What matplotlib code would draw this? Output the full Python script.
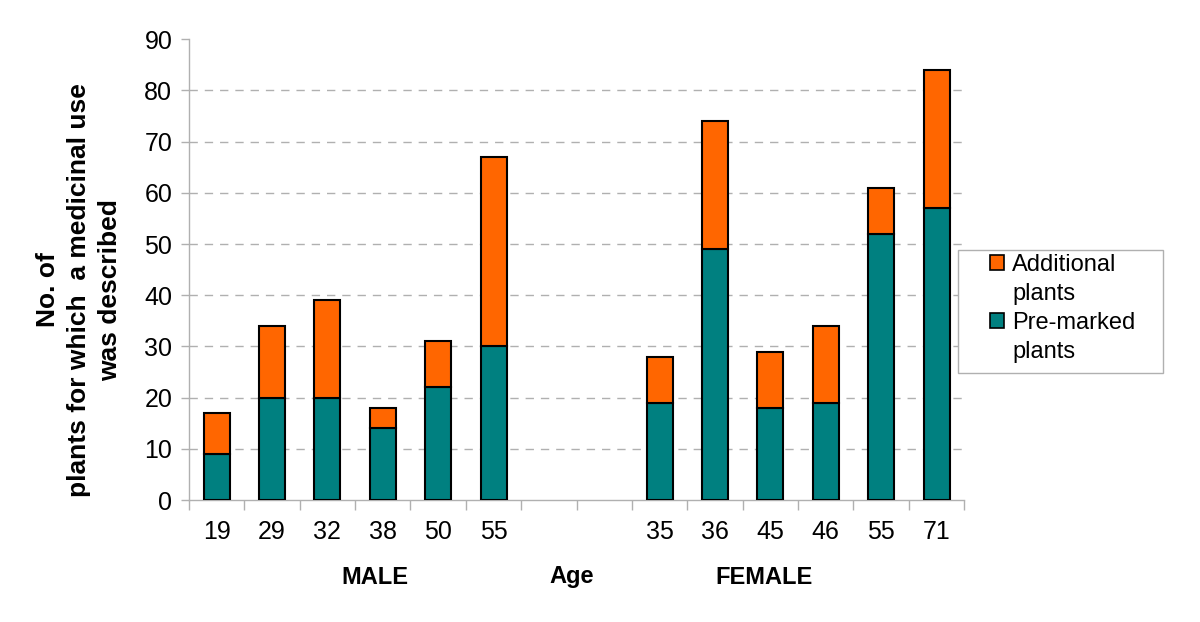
import numpy as np
import matplotlib.pyplot as plt
from matplotlib.patches import Rectangle, Patch

plt.rcParams['font.family'] = ['Liberation Sans', 'DejaVu Sans']

# data
ages = ['19', '29', '32', '38', '50', '55', '', '', '35', '36', '45', '46', '55', '71']
pre_marked = [9, 20, 20, 14, 22, 30, 0, 0, 19, 49, 18, 19, 52, 57]
totals = [17, 34, 39, 18, 31, 67, 0, 0, 28, 74, 29, 34, 61, 84]
additional = [t - p for t, p in zip(totals, pre_marked)]

TEAL = '#008080'
ORANGE = '#FF6600'
GRID = '#b0b0b0'
W, H = 1200, 622

fig = plt.figure(figsize=(12, 6.22), dpi=100)
ax = fig.add_axes([0.1575, 0.196, 0.646, 0.741])

x = np.arange(len(ages))
has_bar = np.array(totals) > 0
w = 0.47
ax.bar(x[has_bar], np.array(pre_marked)[has_bar], width=w, color=TEAL,
       edgecolor='black', linewidth=1.5, zorder=3)
ax.bar(x[has_bar], np.array(additional)[has_bar], width=w,
       bottom=np.array(pre_marked)[has_bar], color=ORANGE,
       edgecolor='black', linewidth=1.5, zorder=3)

ax.set_xlim(-0.5, len(ages) - 0.5)
ax.set_ylim(0, 90)
for yv in range(10, 90, 10):
    ax.axhline(yv, color=GRID, linestyle=(0, (6, 5)), linewidth=1, zorder=1)

ax.set_yticks(range(0, 91, 10))
ax.tick_params(axis='y', labelsize=18, length=6, color=GRID, width=1, pad=6)

# category boundaries carry the tick marks, labels sit at centres
ax.set_xticks(np.arange(-0.5, len(ages), 1.0))
ax.set_xticklabels([])
ax.tick_params(axis='x', length=7, color=GRID, width=1)
ax.set_xticks(x, minor=True)
ax.set_xticklabels(ages, minor=True, fontsize=18)
ax.tick_params(axis='x', which='minor', length=0, pad=14)

for s in ['top', 'right']:
    ax.spines[s].set_visible(False)
for s in ['left', 'bottom']:
    ax.spines[s].set_color(GRID)
    ax.spines[s].set_linewidth(1)

fig.text(79 / W, 1 - 290 / H,
         'No. of\nplants for which  a medicinal use\nwas described',
         fontsize=19, fontweight='bold', rotation=90, ha='center',
         va='center', multialignment='center', linespacing=1.35)

fig.text(375 / W, 1 - 577 / H, 'MALE', fontsize=17, fontweight='bold',
         ha='center', va='center')
fig.text(572 / W, 1 - 577 / H, 'Age', fontsize=17, fontweight='bold',
         ha='center', va='center')
fig.text(764 / W, 1 - 577 / H, 'FEMALE', fontsize=17, fontweight='bold',
         ha='center', va='center')

# legend box drawn by hand so the padding matches;
# the swatch sits next to the first line of each wrapped label
fig.patches.append(Rectangle((958 / W, 1 - 373 / H), 205 / W, 123 / H,
                             transform=fig.transFigure, facecolor='white',
                             edgecolor=GRID, linewidth=1))
blank = Patch(facecolor='none', edgecolor='none')
handles = [Patch(facecolor=ORANGE, edgecolor='black', linewidth=1.2), blank,
           Patch(facecolor=TEAL, edgecolor='black', linewidth=1.2), blank]
labels = ['Additional', 'plants', 'Pre-marked', 'plants']
leg = fig.legend(handles, labels, loc='upper left',
                 bbox_to_anchor=(990 / W, 1 - 254 / H), fontsize=17,
                 frameon=False, handlelength=0.6, handleheight=0.6,
                 handletextpad=0.35, borderpad=0, labelspacing=0.3,
                 borderaxespad=0)

fig.savefig('out.png', dpi=100)
